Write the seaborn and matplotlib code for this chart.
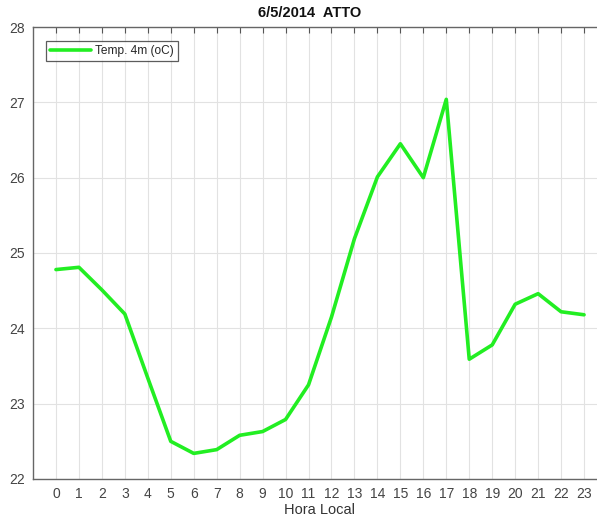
import matplotlib
matplotlib.use("Agg")
import matplotlib.pyplot as plt
import seaborn as sns
import pandas as pd

hours = list(range(24))
temp_4m = [24.78, 24.81, 24.51, 24.19, 23.34, 22.50, 22.34, 22.39, 22.58, 22.63,
           22.79, 23.25, 24.15, 25.19, 26.01, 26.45, 26.00, 27.04, 23.59, 23.78,
           24.32, 24.46, 24.22, 24.18]
series_label = "Temp. 4m (oC)"
title = "6/5/2014  ATTO"
xlabel = "Hora Local"

df = pd.DataFrame({"hora": hours, "temp": temp_4m, "serie": series_label})

sns.set_style("white")
plt.rcParams['font.family'] = ['Liberation Sans', 'DejaVu Sans']

fig = plt.figure(figsize=(5.97, 5.2), dpi=100)
ax = fig.add_axes([33/597, 41/520, 574/597, 452/520])

sns.lineplot(data=df, x="hora", y="temp", hue="serie", palette=["#22ee22"],
             linewidth=2.6, ax=ax)

ax.set_xlim(-1, 24)
ax.set_ylim(22, 28)
ax.set_xticks(hours)
ax.set_yticks(range(22, 29))
ax.grid(True, color="#e2e2e2", linewidth=0.8)
ax.set_axisbelow(True)
ax.tick_params(axis="both", direction="in", length=4, width=0.8, colors="#555555",
               labelcolor="#444444", labelsize=10, top=True, pad=6)
for s in ax.spines.values():
    s.set_color("#666666")
    s.set_linewidth(1.0)
ax.set_xlabel("")
ax.set_ylabel("")
fig.text(319/597, 1 - 510/520, xlabel, ha="center", va="center", fontsize=10.5,
         color="#333333")
fig.text(310/597, 1 - 13/520, title, ha="center", va="center", fontsize=10.5,
         fontweight="bold", color="#111111")

leg = ax.legend(loc="upper left", bbox_to_anchor=(0.016, 0.978), fontsize=8.6,
                frameon=True, fancybox=False, edgecolor="#333333",
                handlelength=3.4, handletextpad=0.4, borderpad=0.35, borderaxespad=0.3)
leg.get_frame().set_linewidth(0.9)

fig.savefig("out.png", dpi=100)
